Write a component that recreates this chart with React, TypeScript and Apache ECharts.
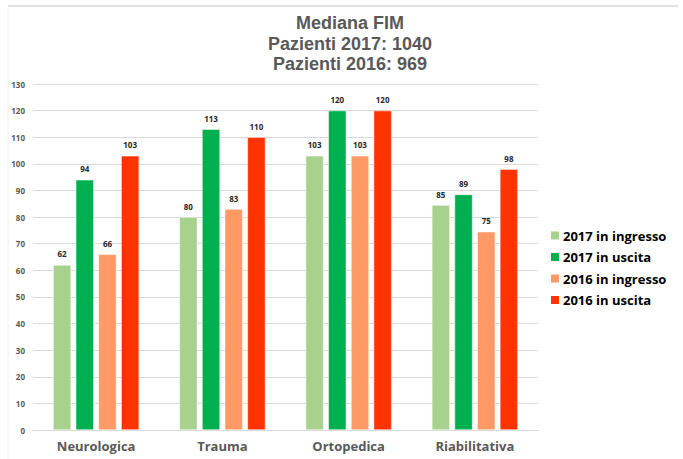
import React, { useEffect, useRef } from "react";
import * as echarts from "echarts";

const categories = ["Neurologica", "Trauma", "Ortopedica", "Riabilitativa"];
const seriesNames = ["2017 in ingresso", "2017 in uscita", "2016 in ingresso", "2016 in uscita"];
const ingresso2017 = [62, 80, 103, 84.5];
const uscita2017 = [94, 113, 120, 88.5];
const ingresso2016 = [66, 83, 103, 74.5];
const uscita2016 = [103, 110, 120, 98];
const colors = ["#a9d18e", "#00b050", "#ff9966", "#ff3300"];
const titleLines = ["Mediana FIM", "Pazienti 2017: 1040", "Pazienti 2016: 969"];

const FONT = "'Open Sans', 'DejaVu Sans', sans-serif";
const TITLE_FONT = "'Liberation Sans', Arial, sans-serif";

export default function App() {
  const ref = useRef<HTMLDivElement>(null);
  useEffect(() => {
    if (!ref.current) return;
    const chart = echarts.init(ref.current, undefined, { renderer: "svg" });
    const data = [ingresso2017, uscita2017, ingresso2016, uscita2016];
    chart.setOption({
      animation: false,
      backgroundColor: "#ffffff",
      title: titleLines.map((t, i) => ({
        text: t,
        left: 350,
        top: 13.5 + i * 20.7,
        padding: 0,
        textAlign: "center",
        textStyle: {
          fontFamily: TITLE_FONT,
          fontWeight: "bold",
          fontSize: 18,
          lineHeight: 19,
          color: "#595959",
        },
      })),
      legend: {
        orient: "vertical",
        left: 549,
        top: 229,
        padding: 0,
        itemWidth: 10,
        itemHeight: 10,
        itemGap: 8.5,
        icon: "rect",
        data: seriesNames,
        textStyle: { fontFamily: FONT, fontWeight: "bold", fontSize: 13, color: "#000000", padding: [0, 0, 0, -2] },
      },
      graphic: [
        { type: "line", shape: { x1: 8, y1: 6, x2: 678, y2: 6 }, style: { stroke: "#d9d9d9", lineWidth: 1.5 } },
        { type: "line", shape: { x1: 8, y1: 6, x2: 8, y2: 459 }, style: { stroke: "#f2f2f2", lineWidth: 1 } },
      ],
      grid: { left: 33, right: 145, top: 84, bottom: 29, containLabel: false },
      xAxis: {
        type: "category",
        data: categories,
        axisTick: { show: false },
        axisLine: { show: true, lineStyle: { color: "#d9d9d9", width: 1 } },
        axisLabel: { fontFamily: FONT, fontWeight: "bold", fontSize: 13, color: "#595959", margin: 9 },
      },
      yAxis: {
        type: "value",
        min: 0,
        max: 130,
        interval: 10,
        axisLine: { show: false },
        axisTick: { show: false },
        splitLine: { lineStyle: { color: "#d9d9d9", width: 1 } },
        axisLabel: { fontFamily: FONT, fontWeight: "bold", fontSize: 8, color: "#595959", margin: 8 },
      },
      series: seriesNames.map((name, i) => ({
        name,
        type: "bar",
        data: data[i],
        barWidth: 18,
        barGap: "26%",
        itemStyle: { color: colors[i], borderColor: "#ffffff", borderWidth: 0.5 },
        label: {
          show: true,
          position: "top",
          distance: 7,
          fontFamily: FONT,
          fontWeight: "bold",
          fontSize: 8,
          color: "#262626",
          formatter: (p: any) => String(Math.round(p.value)),
        },
      })),
    });
    return () => chart.dispose();
  }, []);
  return (
    <div
      ref={ref}
      style={{ position: "absolute", left: 0, top: 0, width: 683, height: 459 }}
    />
  );
}
